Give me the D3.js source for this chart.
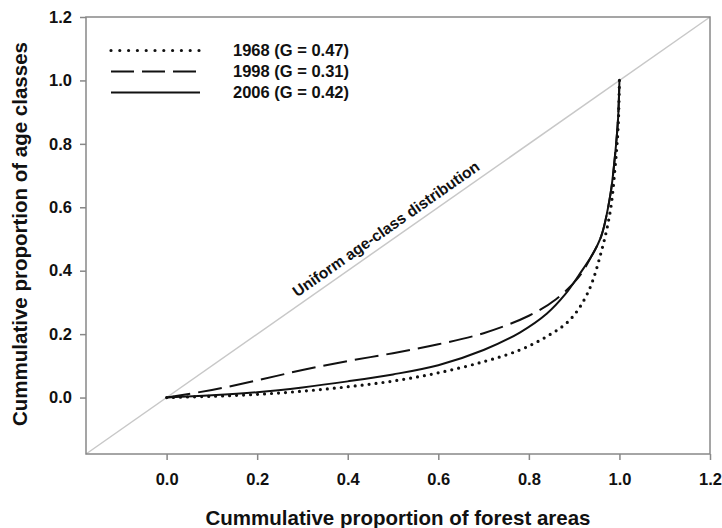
<!DOCTYPE html>
<html>
<head>
<meta charset="utf-8">
<script src="https://cdn.jsdelivr.net/npm/d3@7"></script>
<style>
  body { margin: 0; background: #fff; }
  text { font-family: "Liberation Sans", Arial, sans-serif; font-weight: bold; fill: #111; }
</style>
</head>
<body>
<div id="chart"></div>
<script>
// cumulative proportion of forest area (x) and of age classes (y)
var area1968 = [0, 0.1, 0.2, 0.3, 0.4, 0.5, 0.6, 0.7, 0.78, 0.84, 0.89, 0.93, 0.96, 0.98, 0.99, 0.997, 1.0];
var age1968  = [0, 0.004, 0.01, 0.02, 0.034, 0.052, 0.078, 0.113, 0.15, 0.193, 0.244, 0.33, 0.46, 0.59, 0.72, 0.85, 1.0];

var area1998 = [0, 0.1, 0.2, 0.3, 0.4, 0.5, 0.6, 0.7, 0.8, 0.86, 0.91, 0.94, 0.96, 0.98, 0.99, 0.997, 1.0];
var age1998  = [0, 0.024, 0.054, 0.087, 0.115, 0.14, 0.168, 0.203, 0.258, 0.31, 0.38, 0.45, 0.51, 0.64, 0.76, 0.88, 1.0];

var area2006 = [0, 0.1, 0.2, 0.3, 0.4, 0.5, 0.6, 0.7, 0.78, 0.84, 0.88, 0.91, 0.94, 0.96, 0.98, 0.99, 0.997, 1.0];
var age2006  = [0, 0.007, 0.017, 0.032, 0.051, 0.073, 0.102, 0.15, 0.205, 0.265, 0.325, 0.385, 0.45, 0.51, 0.64, 0.76, 0.88, 1.0];

var seriesNames = ['1968 (G = 0.47)', '1998 (G = 0.31)', '2006 (G = 0.42)'];
var uniformEnds = [-0.178, 1.2];
var xTicks = [0, 0.2, 0.4, 0.6, 0.8, 1.0, 1.2];
var yTicks = [0, 0.2, 0.4, 0.6, 0.8, 1.0, 1.2];

var WIDTH = 722, HEIGHT = 528;
var LEFT = 86, RIGHT = 710, TOP = 17, BOTTOM = 454;

var svg = d3.select('#chart').append('svg')
  .attr('width', WIDTH)
  .attr('height', HEIGHT);

var x = d3.scaleLinear().domain([-0.178, 1.2]).range([LEFT, RIGHT]);
var y = d3.scaleLinear().domain([-0.178, 1.2]).range([BOTTOM, TOP]);

// uniform distribution diagonal
svg.append('line')
  .attr('x1', x(uniformEnds[0])).attr('y1', y(uniformEnds[0]))
  .attr('x2', x(uniformEnds[1])).attr('y2', y(uniformEnds[1]))
  .attr('stroke', '#c8c8c8')
  .attr('stroke-width', 1.5);

var mid = 0.5;
svg.append('text')
  .attr('transform', 'translate(' + x(mid) + ',' + y(mid) + ') rotate(' +
        (-Math.atan2(y(0) - y(1), x(1) - x(0)) * 180 / Math.PI) + ')')
  .attr('dy', -7)
  .attr('text-anchor', 'middle')
  .style('font-size', '15.5px')
  .text('Uniform age-class distribution');

// frame
svg.append('rect')
  .attr('x', LEFT).attr('y', TOP)
  .attr('width', RIGHT - LEFT).attr('height', BOTTOM - TOP)
  .attr('fill', 'none')
  .attr('stroke', '#888')
  .attr('stroke-width', 1.5);

var xAxis = d3.axisBottom(x).tickValues(xTicks).tickFormat(d3.format('.1f'))
  .tickSizeInner(6).tickSizeOuter(0).tickPadding(13);
var yAxis = d3.axisLeft(y).tickValues(yTicks).tickFormat(d3.format('.1f'))
  .tickSizeInner(6).tickSizeOuter(0).tickPadding(8);

var gx = svg.append('g')
  .attr('transform', 'translate(0,' + BOTTOM + ')')
  .call(xAxis);
var gy = svg.append('g')
  .attr('transform', 'translate(' + LEFT + ',0)')
  .call(yAxis);

[gx, gy].forEach(function(g) {
  g.select('.domain').remove();
  g.selectAll('line').attr('stroke', '#888').attr('stroke-width', 1.5);
  g.selectAll('text').attr('fill', '#222').style('font-size', '16.5px').style('font-family', '"Liberation Sans", Arial, sans-serif');
});

// curves
var styles = [
  { dash: '0,7', width: 3.2, cap: 'round' },
  { dash: '24,8', width: 2, cap: 'butt' },
  { dash: null, width: 2, cap: 'butt' }
];
var series = [
  d3.zip(area1968, age1968),
  d3.zip(area1998, age1998),
  d3.zip(area2006, age2006)
];

var line = d3.line()
  .x(function(d) { return x(d[0]); })
  .y(function(d) { return y(d[1]); })
  .curve(d3.curveCatmullRom.alpha(0.5));

series.forEach(function(s, i) {
  svg.append('path')
    .datum(s)
    .attr('d', line)
    .attr('fill', 'none')
    .attr('stroke', '#111')
    .attr('stroke-width', styles[i].width)
    .attr('stroke-linecap', styles[i].cap)
    .attr('stroke-dasharray', styles[i].dash);
});

// legend
var legend = svg.append('g');
seriesNames.forEach(function(name, i) {
  var ly = 50.5 + i * 21;
  legend.append('line')
    .attr('x1', 111).attr('x2', 200)
    .attr('y1', ly).attr('y2', ly)
    .attr('stroke', '#111')
    .attr('stroke-width', styles[i].width)
    .attr('stroke-linecap', styles[i].cap)
    .attr('stroke-dasharray', i === 0 ? '0,8.8' : '23,8');
  if (i === 2) legend.select('line:last-child').attr('stroke-dasharray', null);
  legend.append('text')
    .attr('x', 233).attr('y', ly)
    .attr('dy', '0.36em')
    .style('font-size', '16.5px')
    .text(name);
});

// axis titles
svg.append('text')
  .attr('x', 398).attr('y', 525)
  .attr('text-anchor', 'middle')
  .style('font-size', '20.5px')
  .text('Cummulative proportion of forest areas');

svg.append('text')
  .attr('transform', 'translate(27,234) rotate(-90)')
  .attr('text-anchor', 'middle')
  .style('font-size', '20.5px')
  .text('Cummulative proportion of age classes');
</script>
</body>
</html>
